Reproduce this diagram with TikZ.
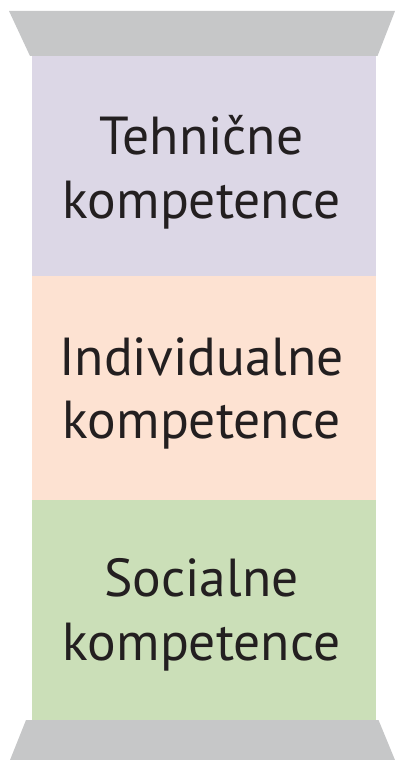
\documentclass[tikz,border=0pt]{standalone}
\usepackage{fontspec}
\setmainfont{PT Sans}
\usetikzlibrary{positioning}
\definecolor{capgray}{HTML}{C6C7C8}
\definecolor{techviolet}{HTML}{DCD7E6}
\definecolor{indpeach}{HTML}{FDE2D2}
\definecolor{socgreen}{HTML}{CBDFB8}
\definecolor{inkblack}{HTML}{231F20}
\tikzstyle{pillartext} = [anchor=base, inner sep=0pt, text=inkblack, font=\fontsize{53.5}{64}\selectfont]

\begin{document}
\begin{tikzpicture}[x=1pt,y=-1pt]
            \useasboundingbox (0,0) rectangle (395,760);
            % capitals
            \fill[capgray] (9,11) -- (395,11) -- (377.5,56) -- (30,56) -- cycle;
            \fill[capgray] (26,720) -- (378.5,720) -- (395,760) -- (10,760) -- cycle;
            % column blocks
            \fill[techviolet] (31.5,56) rectangle (375.5,276);
            \fill[indpeach] (31.5,276) rectangle (375.5,499.5);
            \fill[socgreen] (31.5,499.5) rectangle (375.5,720);
            % texts
            \node[pillartext] (teh1) at (201.5,154) {Tehnične};
            \node[pillartext] (teh2) at (201.5,218) {kompetence};
            \node[pillartext] (ind1) at (201.5,375) {Individualne};
            \node[pillartext] (ind2) at (201.5,438) {kompetence};
            \node[pillartext] (soc1) at (201.5,596.5) {Socialne};
            \node[pillartext] (soc2) at (201.5,660.5) {kompetence};
        \end{tikzpicture}
\end{document}
